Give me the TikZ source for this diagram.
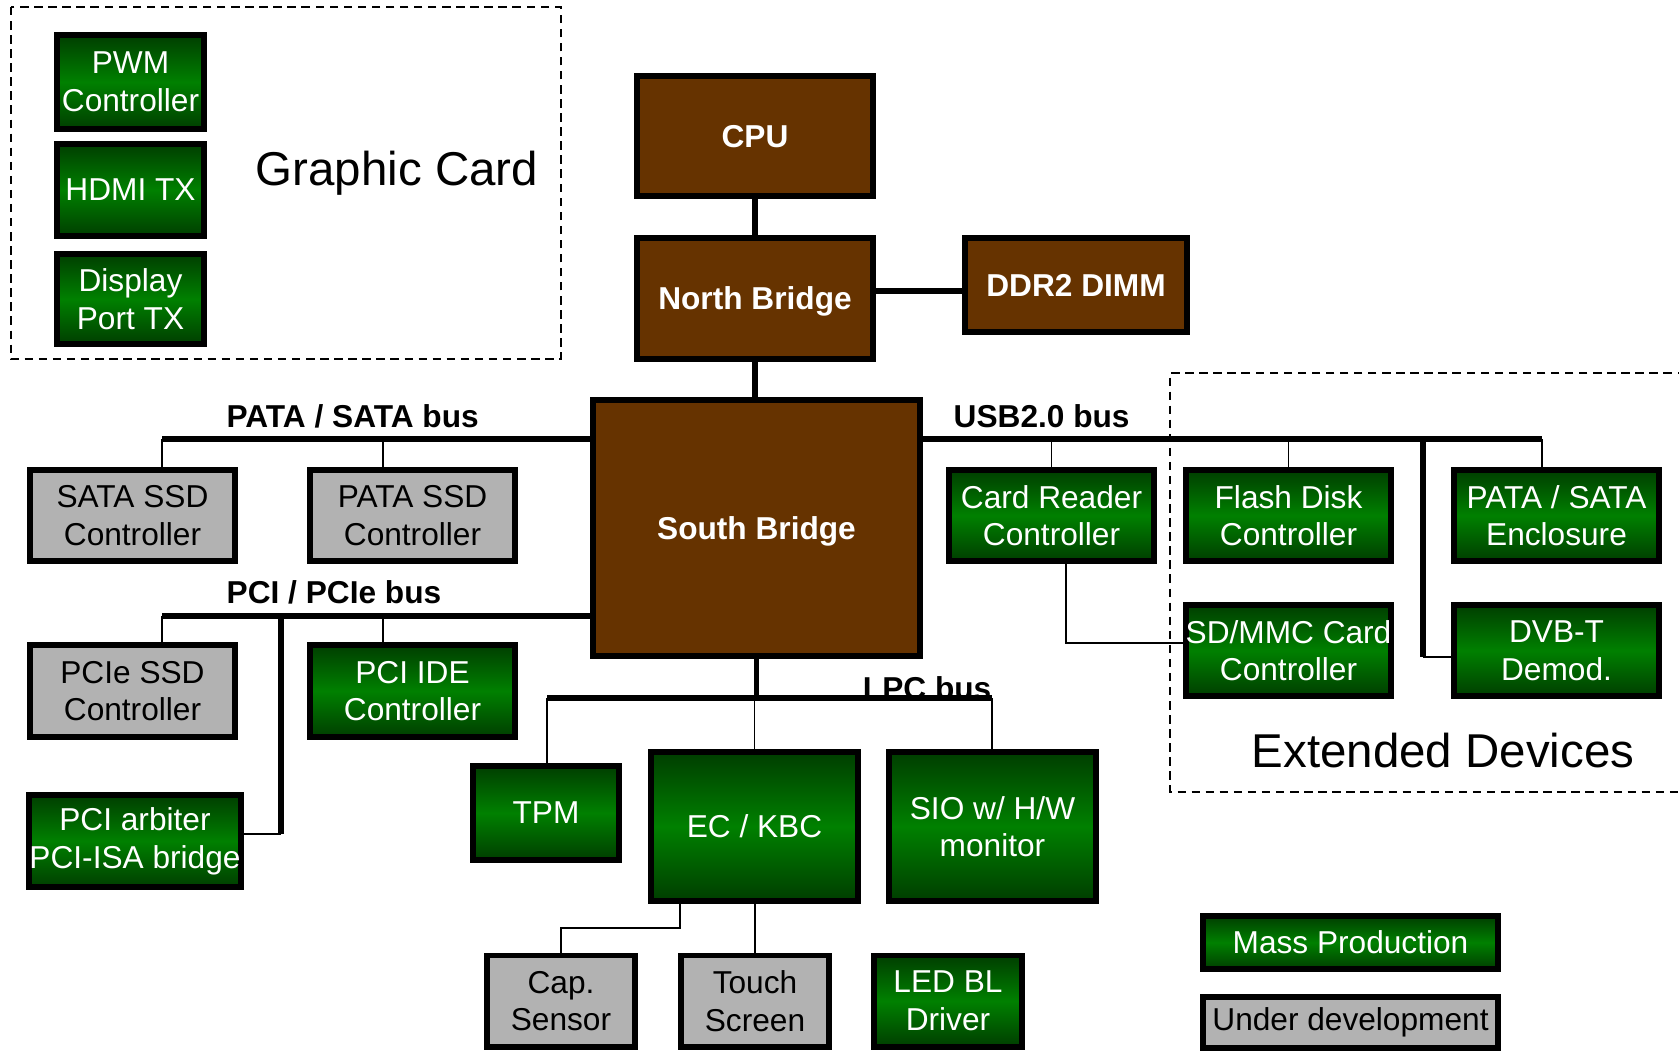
\documentclass[tikz,border=0pt]{standalone}
\usepackage{fontspec}
\setmainfont{Liberation Sans}
\usepackage{tikz}

\definecolor{chipbrown}{RGB}{102,51,0}
\definecolor{devgray}{RGB}{178,178,178}
\definecolor{gdark}{RGB}{0,62,0}
\definecolor{gmid}{RGB}{0,128,0}
\newcommand{\boxfont}{\fontsize{9}{10.7}\selectfont}
\newcommand{\bigfont}{\fontsize{13.5}{16}\selectfont}

\begin{document}
\begin{tikzpicture}[x=0.01cm,y=-0.01cm,
	blk/.style={draw=black,line width=1.7pt,inner sep=0pt,align=center,font=\boxfont},
	mp/.style={blk,top color=gdark,bottom color=gdark,middle color=gmid,text=white},
	ud/.style={blk,fill=devgray,text=black},
	chip/.style={blk,fill=chipbrown,text=white,font=\boxfont\bfseries,text depth=0pt},
	bus/.style={line width=1.6pt},
	wire/.style={line width=0.45pt},
	group/.style={line width=0.6pt,dash pattern=on 2.4pt off 1.6pt},
	buslabel/.style={font=\boxfont\bfseries,anchor=base west,inner sep=0pt}]
					% Define the page
					\useasboundingbox (0,0) rectangle (1679,1050);
					\clip (0,0) rectangle (1679,1050);
					% Graphic card group
					\draw[group] (11,7) rectangle (561,359);
					\node[mp,minimum width=1.47cm,minimum height=0.94cm] (pwm) at (130.5,82) {PWM\\Controller};
					\node[mp,minimum width=1.47cm,minimum height=0.92cm] (hdmi) at (130.5,190) {HDMI TX};
					\node[mp,minimum width=1.47cm,minimum height=0.90cm] (dport) at (130.5,299) {Display\\Port TX};
					\node[font=\bigfont,anchor=base] (gclabel) at (397,185) {Graphic Card};
					% Chipset
					\node[chip,minimum width=2.36cm,minimum height=1.20cm] (cpu) at (755,136) {CPU};
					\node[chip,minimum width=2.36cm,minimum height=1.21cm] (nb) at (755,298.5) {North Bridge};
					\node[chip,minimum width=2.22cm,minimum height=0.94cm] (ddr) at (1076,285) {DDR2 DIMM};
					\node[chip,minimum width=3.27cm,minimum height=2.56cm] (sb) at (756.5,528) {South Bridge};
					\coordinate (memlink) at (961,291);
					\draw[bus] (cpu.south) -- (nb.north);
					\draw[bus] (nb.south) -- (nb.south |- sb.north);
					\draw[bus] (memlink -| nb.east) -- (ddr.west |- memlink);
					% PATA / SATA bus
					\node[ud,minimum width=2.05cm,minimum height=0.91cm] (satassd) at (132.5,515.5) {SATA SSD\\Controller};
					\node[ud,minimum width=2.05cm,minimum height=0.91cm] (patassd) at (412.5,515.5) {PATA SSD\\Controller};
					\node[buslabel] (patalabel) at (226,427) {PATA / SATA bus};
					\coordinate (pataL) at (162,439);
					\coordinate (pataM) at (383,439);
					\draw[bus] (pataL) -- (pataL -| sb.west);
					\draw[wire] (pataL) -- (pataL |- satassd.north);
					\draw[wire] (pataM) -- (pataM |- patassd.north);
					% PCI / PCIe bus
					\node[ud,minimum width=2.05cm,minimum height=0.92cm] (pciessd) at (132.5,691) {PCIe SSD\\Controller};
					\node[mp,minimum width=2.05cm,minimum height=0.92cm] (pciide) at (412.5,691) {PCI IDE\\Controller};
					\node[mp,minimum width=2.06cm,minimum height=0.92cm] (arbiter) at (135,841) {PCI arbiter\\PCI-ISA bridge};
					\node[buslabel] (pcilabel) at (226,603) {PCI / PCIe bus};
					\coordinate (pciL) at (162,616);
					\coordinate (pciM) at (383,616);
					\coordinate (pciT) at (281,616);
					\coordinate (arbT) at (281,834);
					\draw[bus] (pciL) -- (pciL -| sb.west);
					\draw[wire] (pciL) -- (pciL |- pciessd.north);
					\draw[wire] (pciM) -- (pciM |- pciide.north);
					\draw[bus] (pciT) -- (arbT);
					\draw[wire] (arbT) -- (arbT -| arbiter.east);
					% USB2.0 bus
					\draw[group] (1700,373) -- (1170,373) -- (1170,792) -- (1700,792);
					\node[font=\bigfont,anchor=base] (edlabel) at (1443,767) {Extended Devices};
					\node[mp,minimum width=2.05cm,minimum height=0.91cm] (cardrd) at (1051.5,515.5) {Card Reader\\Controller};
					\node[mp,minimum width=2.05cm,minimum height=0.91cm] (flash) at (1288.5,515.5) {Flash Disk\\Controller};
					\node[mp,minimum width=2.05cm,minimum height=0.91cm] (encl) at (1556.5,515.5) {PATA / SATA\\Enclosure};
					\node[mp,minimum width=2.05cm,minimum height=0.91cm] (sdmmc) at (1288.5,650.5) {SD/MMC Card\\Controller};
					\node[mp,minimum width=2.05cm,minimum height=0.91cm] (dvbt) at (1556.5,650.5) {DVB-T\\Demod.};
					\node[buslabel] (usblabel) at (953,427) {USB2.0 bus};
					\coordinate (usbR) at (1542,439);
					\coordinate (usbT) at (1423,439);
					\coordinate (dvbT) at (1423,657);
					\coordinate (cardT) at (1066,643);
					\draw[bus] (sb.east |- usbR) -- (usbR);
					\draw[wire] (cardrd.north) -- (cardrd.north |- usbR);
					\draw[wire] (flash.north) -- (flash.north |- usbR);
					\draw[wire] (usbR) -- (usbR |- encl.north);
					\draw[bus] (usbT) -- (dvbT);
					\draw[wire] (dvbT) -- (dvbT -| dvbt.west);
					\draw[wire] (cardT |- cardrd.south) -- (cardT) -- (cardT -| sdmmc.west);
					% LPC bus
					\node[mp,minimum width=1.46cm,minimum height=0.94cm] (tpm) at (546,813) {TPM};
					\node[mp,minimum width=2.06cm,minimum height=1.48cm] (ec) at (754.5,826.5) {EC / KBC};
					\node[mp,minimum width=2.06cm,minimum height=1.48cm] (sio) at (992.5,826.5) {SIO w/ H/W\\monitor};
					\coordinate (lpcL) at (547,698);
					\coordinate (lpcR) at (992,698);
					\node[buslabel,anchor=base east] (lpclabel) at (992,699) {LPC bus};
					\draw[bus] (lpcL) -- (lpcR);
					\draw[bus] (sb.south) -- (sb.south |- lpcL);
					\draw[wire] (lpcL) -- (lpcL |- tpm.north);
					\draw[wire] (ec.north |- lpcL) -- (ec.north);
					\draw[wire] (lpcR) -- (lpcR |- sio.north);
					% Devices on the EC
					\node[ud,minimum width=1.47cm,minimum height=0.91cm] (cap) at (561,1001) {Cap.\\Sensor};
					\node[ud,minimum width=1.47cm,minimum height=0.91cm] (touch) at (755,1001) {Touch\\Screen};
					\node[mp,minimum width=1.47cm,minimum height=0.91cm] (led) at (948,1001) {LED BL\\Driver};
					\coordinate (capT) at (680,928);
					\draw[wire] (capT |- ec.south) -- (capT) -- (capT -| cap.north) -- (cap.north);
					\draw[wire] (touch.north |- ec.south) -- (touch.north);
					% Legend
					\node[mp,minimum width=2.95cm,minimum height=0.53cm] (mass) at (1350.5,942.5) {Mass Production};
					\node[ud,minimum width=2.95cm,minimum height=0.51cm] (under) at (1350.5,1022) {Under development};
				\end{tikzpicture}
\end{document}
